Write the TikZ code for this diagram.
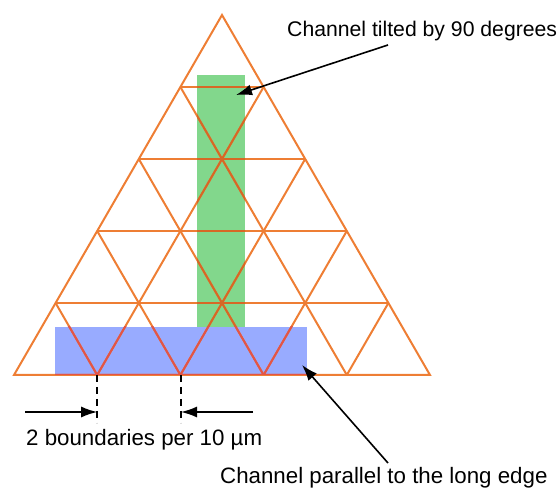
\documentclass[tikz,border=0pt]{standalone}
\usepackage{fontspec}
\setmainfont{Liberation Sans}
\usepackage{tikz}
\usetikzlibrary{arrows.meta,positioning}

\definecolor{gridorange}{RGB}{238,126,52}
\definecolor{gridred}{RGB}{226,84,72}
\definecolor{griddark}{RGB}{214,104,38}
\definecolor{chgreen}{RGB}{130,215,140}
\definecolor{chblue}{RGB}{152,171,255}

% triangular grid, 5 rows
\newcommand{\trigrid}[1]{%
    \draw[#1, line join=miter] (14,375) -- (430,375) -- (222,15) -- cycle;
    \foreach \k in {1,...,4}
        \draw[#1] ({222-41.6*\k},{15+72*\k}) -- ({222+41.6*\k},{15+72*\k});
    \foreach \k in {1,...,4}{
        \draw[#1] ({14+83.2*\k},375) -- ({14+83.2*\k+41.6*(5-\k)},{375-72*(5-\k)});
        \draw[#1] ({14+83.2*\k},375) -- ({14+83.2*\k-41.6*\k},{375-72*\k});
    }%
}

\begin{document}
\begin{tikzpicture}[x=1pt, y=-1pt,
    gridline/.style={draw=gridorange, line width=2pt},
    lbl/.style={font=\fontsize{22.3}{26}\selectfont, inner sep=0pt},
    pointer/.style={-{Latex[length=16pt,width=11pt]}, line width=1.6pt},
    marker/.style={dashed, dash pattern=on 7pt off 5pt, line width=1.6pt}
]
    \useasboundingbox (0,0) rectangle (558,492);

    % channels
    \fill[chgreen] (197,75) rectangle (245,327);
    \fill[chblue] (55,327) rectangle (307,375);

    \trigrid{gridline}
    \begin{scope}
        \clip (197,75) rectangle (245,327);
        \trigrid{gridline, draw=griddark}
    \end{scope}
    \begin{scope}
        \clip (55,327) rectangle (307,375);
        \trigrid{gridline, draw=gridred}
    \end{scope}

    % labels
    \node[lbl, anchor=base west, font=\fontsize{21.2}{25}\selectfont] (tiltlbl) at (287,37) {Channel tilted by 90 degrees};
    \node[lbl, anchor=base west] (paralbl) at (220,483) {Channel parallel to the long edge};
    \node[lbl, anchor=base west] (bndlbl) at (26,446) {2 boundaries per 10 µm};

    \coordinate (tilttail) at (388,45);
    \coordinate (tilttip) at (236,95);
    \coordinate (paratail) at (388,463);
    \coordinate (paratip) at (302,365);

    \coordinate (bndA) at (97.2,375);
    \coordinate (bndAend) at (97.2,423);
    \coordinate (bndB) at (181,375);
    \coordinate (bndBend) at (181,423);
    \coordinate (inA) at (25,412);
    \coordinate (inB) at (253,412);

    \draw[pointer] (tilttail) -- (tilttip);
    \draw[pointer] (paratail) -- (paratip);
    \draw[marker] (bndA) -- (bndAend);
    \draw[marker] (bndB) -- (bndBend);
    \draw[pointer] (inA) -- (inA -| bndA);
    \draw[pointer] (inB) -- (inB -| bndB);
\end{tikzpicture}
\end{document}
